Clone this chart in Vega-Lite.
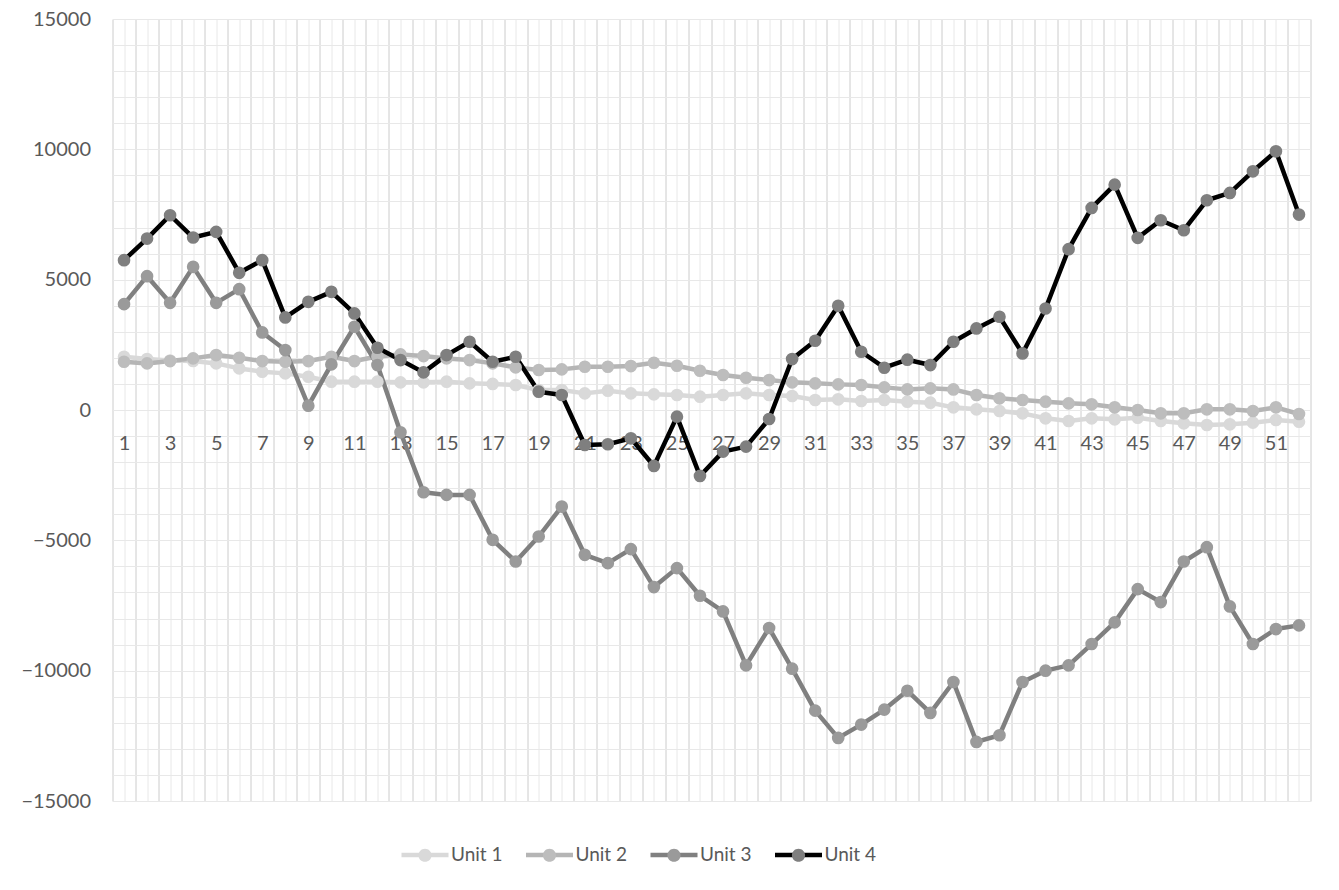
{
  "$schema": "https://vega.github.io/schema/vega-lite/v6.json",
  "width": 1198,
  "height": 782,
  "autosize": "none",
  "padding": {"left": 112.5, "top": 19, "right": 28.5, "bottom": 89},
  "background": "white",
  "config": {"view": {"stroke": null}, "font": "Lato"},
  "data": {"values": [
    {"w":1,"s":"Unit 1","v":2043},{"w":2,"s":"Unit 1","v":1954},{"w":3,"s":"Unit 1","v":1900},{"w":4,"s":"Unit 1","v":1880},{"w":5,"s":"Unit 1","v":1788},{"w":6,"s":"Unit 1","v":1596},{"w":7,"s":"Unit 1","v":1469},{"w":8,"s":"Unit 1","v":1405},{"w":9,"s":"Unit 1","v":1277},{"w":10,"s":"Unit 1","v":1086},
    {"w":11,"s":"Unit 1","v":1086},{"w":12,"s":"Unit 1","v":1086},{"w":13,"s":"Unit 1","v":1060},{"w":14,"s":"Unit 1","v":1060},{"w":15,"s":"Unit 1","v":1086},{"w":16,"s":"Unit 1","v":1022},{"w":17,"s":"Unit 1","v":1000},{"w":18,"s":"Unit 1","v":958},{"w":19,"s":"Unit 1","v":766},{"w":20,"s":"Unit 1","v":766},
    {"w":21,"s":"Unit 1","v":638},{"w":22,"s":"Unit 1","v":741},{"w":23,"s":"Unit 1","v":638},{"w":24,"s":"Unit 1","v":600},{"w":25,"s":"Unit 1","v":575},{"w":26,"s":"Unit 1","v":511},{"w":27,"s":"Unit 1","v":575},{"w":28,"s":"Unit 1","v":638},{"w":29,"s":"Unit 1","v":575},{"w":30,"s":"Unit 1","v":536},
    {"w":31,"s":"Unit 1","v":383},{"w":32,"s":"Unit 1","v":409},{"w":33,"s":"Unit 1","v":345},{"w":34,"s":"Unit 1","v":383},{"w":35,"s":"Unit 1","v":319},{"w":36,"s":"Unit 1","v":281},{"w":37,"s":"Unit 1","v":102},{"w":38,"s":"Unit 1","v":26},{"w":39,"s":"Unit 1","v":-38},{"w":40,"s":"Unit 1","v":-128},
    {"w":41,"s":"Unit 1","v":-319},{"w":42,"s":"Unit 1","v":-421},{"w":43,"s":"Unit 1","v":-319},{"w":44,"s":"Unit 1","v":-357},{"w":45,"s":"Unit 1","v":-294},{"w":46,"s":"Unit 1","v":-421},{"w":47,"s":"Unit 1","v":-511},{"w":48,"s":"Unit 1","v":-575},{"w":49,"s":"Unit 1","v":-549},{"w":50,"s":"Unit 1","v":-485},
    {"w":51,"s":"Unit 1","v":-383},{"w":52,"s":"Unit 1","v":-447},
    {"w":1,"s":"Unit 2","v":1852},{"w":2,"s":"Unit 2","v":1788},{"w":3,"s":"Unit 2","v":1877},{"w":4,"s":"Unit 2","v":1980},{"w":5,"s":"Unit 2","v":2107},{"w":6,"s":"Unit 2","v":2005},{"w":7,"s":"Unit 2","v":1877},{"w":8,"s":"Unit 2","v":1852},{"w":9,"s":"Unit 2","v":1877},{"w":10,"s":"Unit 2","v":2043},
    {"w":11,"s":"Unit 2","v":1877},{"w":12,"s":"Unit 2","v":2050},{"w":13,"s":"Unit 2","v":2133},{"w":14,"s":"Unit 2","v":2069},{"w":15,"s":"Unit 2","v":1980},{"w":16,"s":"Unit 2","v":1916},{"w":17,"s":"Unit 2","v":1788},{"w":18,"s":"Unit 2","v":1635},{"w":19,"s":"Unit 2","v":1533},{"w":20,"s":"Unit 2","v":1558},
    {"w":21,"s":"Unit 2","v":1660},{"w":22,"s":"Unit 2","v":1660},{"w":23,"s":"Unit 2","v":1686},{"w":24,"s":"Unit 2","v":1814},{"w":25,"s":"Unit 2","v":1699},{"w":26,"s":"Unit 2","v":1507},{"w":27,"s":"Unit 2","v":1341},{"w":28,"s":"Unit 2","v":1239},{"w":29,"s":"Unit 2","v":1149},{"w":30,"s":"Unit 2","v":1060},
    {"w":31,"s":"Unit 2","v":1022},{"w":32,"s":"Unit 2","v":983},{"w":33,"s":"Unit 2","v":958},{"w":34,"s":"Unit 2","v":868},{"w":35,"s":"Unit 2","v":791},{"w":36,"s":"Unit 2","v":830},{"w":37,"s":"Unit 2","v":789},{"w":38,"s":"Unit 2","v":575},{"w":39,"s":"Unit 2","v":447},{"w":40,"s":"Unit 2","v":383},
    {"w":41,"s":"Unit 2","v":319},{"w":42,"s":"Unit 2","v":255},{"w":43,"s":"Unit 2","v":217},{"w":44,"s":"Unit 2","v":102},{"w":45,"s":"Unit 2","v":0},{"w":46,"s":"Unit 2","v":-128},{"w":47,"s":"Unit 2","v":-128},{"w":48,"s":"Unit 2","v":26},{"w":49,"s":"Unit 2","v":26},{"w":50,"s":"Unit 2","v":-38},
    {"w":51,"s":"Unit 2","v":102},{"w":52,"s":"Unit 2","v":-153},
    {"w":1,"s":"Unit 3","v":4061},{"w":2,"s":"Unit 3","v":5134},{"w":3,"s":"Unit 3","v":4112},{"w":4,"s":"Unit 3","v":5492},{"w":5,"s":"Unit 3","v":4112},{"w":6,"s":"Unit 3","v":4636},{"w":7,"s":"Unit 3","v":2975},{"w":8,"s":"Unit 3","v":2299},{"w":9,"s":"Unit 3","v":166},{"w":10,"s":"Unit 3","v":1750},
    {"w":11,"s":"Unit 3","v":3193},{"w":12,"s":"Unit 3","v":1724},{"w":13,"s":"Unit 3","v":-856},{"w":14,"s":"Unit 3","v":-3155},{"w":15,"s":"Unit 3","v":-3257},{"w":16,"s":"Unit 3","v":-3257},{"w":17,"s":"Unit 3","v":-4981},{"w":18,"s":"Unit 3","v":-5811},{"w":19,"s":"Unit 3","v":-4853},{"w":20,"s":"Unit 3","v":-3704},
    {"w":21,"s":"Unit 3","v":-5556},{"w":22,"s":"Unit 3","v":-5875},{"w":23,"s":"Unit 3","v":-5338},{"w":24,"s":"Unit 3","v":-6794},{"w":25,"s":"Unit 3","v":-6066},{"w":26,"s":"Unit 3","v":-7126},{"w":27,"s":"Unit 3","v":-7727},{"w":28,"s":"Unit 3","v":-9796},{"w":29,"s":"Unit 3","v":-8365},{"w":30,"s":"Unit 3","v":-9923},
    {"w":31,"s":"Unit 3","v":-11533},{"w":32,"s":"Unit 3","v":-12580},{"w":33,"s":"Unit 3","v":-12069},{"w":34,"s":"Unit 3","v":-11494},{"w":35,"s":"Unit 3","v":-10770},{"w":36,"s":"Unit 3","v":-11622},{"w":37,"s":"Unit 3","v":-10434},{"w":38,"s":"Unit 3","v":-12733},{"w":39,"s":"Unit 3","v":-12478},{"w":40,"s":"Unit 3","v":-10434},
    {"w":41,"s":"Unit 3","v":-10000},{"w":42,"s":"Unit 3","v":-9796},{"w":43,"s":"Unit 3","v":-8978},{"w":44,"s":"Unit 3","v":-8148},{"w":45,"s":"Unit 3","v":-6871},{"w":46,"s":"Unit 3","v":-7369},{"w":47,"s":"Unit 3","v":-5811},{"w":48,"s":"Unit 3","v":-5262},{"w":49,"s":"Unit 3","v":-7535},{"w":50,"s":"Unit 3","v":-8978},
    {"w":51,"s":"Unit 3","v":-8404},{"w":52,"s":"Unit 3","v":-8263},
    {"w":1,"s":"Unit 4","v":5747},{"w":2,"s":"Unit 4","v":6577},{"w":3,"s":"Unit 4","v":7471},{"w":4,"s":"Unit 4","v":6616},{"w":5,"s":"Unit 4","v":6833},{"w":6,"s":"Unit 4","v":5262},{"w":7,"s":"Unit 4","v":5747},{"w":8,"s":"Unit 4","v":3551},{"w":9,"s":"Unit 4","v":4150},{"w":10,"s":"Unit 4","v":4533},
    {"w":11,"s":"Unit 4","v":3704},{"w":12,"s":"Unit 4","v":2388},{"w":13,"s":"Unit 4","v":1916},{"w":14,"s":"Unit 4","v":1443},{"w":15,"s":"Unit 4","v":2107},{"w":16,"s":"Unit 4","v":2618},{"w":17,"s":"Unit 4","v":1852},{"w":18,"s":"Unit 4","v":2043},{"w":19,"s":"Unit 4","v":703},{"w":20,"s":"Unit 4","v":575},
    {"w":21,"s":"Unit 4","v":-1341},{"w":22,"s":"Unit 4","v":-1315},{"w":23,"s":"Unit 4","v":-1086},{"w":24,"s":"Unit 4","v":-2146},{"w":25,"s":"Unit 4","v":-255},{"w":26,"s":"Unit 4","v":-2529},{"w":27,"s":"Unit 4","v":-1596},{"w":28,"s":"Unit 4","v":-1405},{"w":29,"s":"Unit 4","v":-345},{"w":30,"s":"Unit 4","v":1954},
    {"w":31,"s":"Unit 4","v":2656},{"w":32,"s":"Unit 4","v":3997},{"w":33,"s":"Unit 4","v":2235},{"w":34,"s":"Unit 4","v":1622},{"w":35,"s":"Unit 4","v":1930},{"w":36,"s":"Unit 4","v":1724},{"w":37,"s":"Unit 4","v":2618},{"w":38,"s":"Unit 4","v":3129},{"w":39,"s":"Unit 4","v":3576},{"w":40,"s":"Unit 4","v":2171},
    {"w":41,"s":"Unit 4","v":3895},{"w":42,"s":"Unit 4","v":6169},{"w":43,"s":"Unit 4","v":7752},{"w":44,"s":"Unit 4","v":8646},{"w":45,"s":"Unit 4","v":6603},{"w":46,"s":"Unit 4","v":7280},{"w":47,"s":"Unit 4","v":6897},{"w":48,"s":"Unit 4","v":8046},{"w":49,"s":"Unit 4","v":8327},{"w":50,"s":"Unit 4","v":9157},
    {"w":51,"s":"Unit 4","v":9923},{"w":52,"s":"Unit 4","v":7497}
  ]},
  "resolve": {"axis": {"x": "independent", "y": "independent"}},
  "layer": [
    {
      "mark": {"type": "line", "strokeWidth": 4.5, "strokeJoin": "round", "strokeCap": "round"},
      "encoding": {
        "x": {"field": "w", "type": "quantitative",
          "scale": {"domain": [0.5, 52.5], "nice": false, "zero": false},
          "axis": {"orient": "bottom", "values": [0.5,1.5,2.5,3.5,4.5,5.5,6.5,7.5,8.5,9.5,10.5,11.5,12.5,13.5,14.5,15.5,16.5,17.5,18.5,19.5,20.5,21.5,22.5,23.5,24.5,25.5,26.5,27.5,28.5,29.5,30.5,31.5,32.5,33.5,34.5,35.5,36.5,37.5,38.5,39.5,40.5,41.5,42.5,43.5,44.5,45.5,46.5,47.5,48.5,49.5,50.5,51.5,52.5],
            "grid": true, "gridColor": "#cccccc", "gridWidth": 1, "labels": false, "ticks": false, "domain": false, "title": null}},
        "y": {"field": "v", "type": "quantitative",
          "scale": {"domain": [-15000, 15000], "nice": false, "zero": false},
          "axis": {"orient": "left", "values": [-15000,-10000,-5000,0,5000,10000,15000],
            "grid": true, "gridColor": "#cccccc", "gridWidth": 1, "ticks": false, "tickSize": 0, "domain": false, "title": null,
            "labelFontSize": 20, "labelColor": "#595959", "labelPadding": 22, "format": "d"}},
        "stroke": {"field": "s", "type": "nominal",
          "scale": {"range": ["#d9d9d9", "#b5b5b5", "#808080", "#000000"]},
          "legend": {"orient": "none", "legendX": 286.5, "legendY": 810, "direction": "horizontal", "columns": 4,
            "title": null, "symbolType": "stroke", "symbolSize": 2209, "symbolStrokeWidth": 4.5,
            "labelFontSize": 19, "labelColor": "#595959", "labelOffset": 0, "columnPadding": 13.5, "gridAlign": "all", "padding": 0, "zindex": 0}}
      }
    },
    {
      "mark": {"type": "point", "filled": true, "opacity": 1, "size": 160, "shape": "circle"},
      "encoding": {
        "x": {"field": "w", "type": "quantitative",
          "axis": {"orient": "top", "values": [1,2,3,4,5,6,7,8,9,10,11,12,13,14,15,16,17,18,19,20,21,22,23,24,25,26,27,28,29,30,31,32,33,34,35,36,37,38,39,40,41,42,43,44,45,46,47,48,49,50,51,52],
            "grid": true, "gridColor": "#e8e8e8", "gridWidth": 1, "labels": false, "ticks": false, "domain": false, "title": null}},
        "y": {"field": "v", "type": "quantitative",
          "axis": {"orient": "right", "values": [-15000,-14000,-13000,-12000,-11000,-10000,-9000,-8000,-7000,-6000,-5000,-4000,-3000,-2000,-1000,0,1000,2000,3000,4000,5000,6000,7000,8000,9000,10000,11000,12000,13000,14000,15000],
            "grid": true, "gridColor": "#e8e8e8", "gridWidth": 1, "labels": false, "ticks": false, "domain": false, "title": null}},
        "fill": {"field": "s", "type": "nominal",
          "scale": {"domain": ["Unit 1", "Unit 2", "Unit 3", "Unit 4"], "range": ["#d9d9d9", "#bdbdbd", "#9a9a9a", "#7f7f7f"]},
          "legend": {"orient": "none", "legendX": 286.5, "legendY": 810, "direction": "horizontal", "columns": 4,
            "title": null, "symbolType": "M-1,0L1,0M-0.28,0a0.28,0.28 0 1,0 0.56,0a0.28,0.28 0 1,0 -0.56,0Z", "symbolSize": 2209, "symbolStrokeWidth": 4.5,
            "symbolStrokeColor": "transparent", "labelExpr": "''",
            "labelFontSize": 19, "labelOffset": 0, "columnPadding": 58.5, "gridAlign": "all", "padding": 0, "zindex": 1}}
      }
    },
    {
      "mark": {"type": "point", "opacity": 0},
      "encoding": {
        "x": {"field": "w", "type": "quantitative",
          "axis": {"orient": "bottom", "offset": -391, "values": [1,3,5,7,9,11,13,15,17,19,21,23,25,27,29,31,33,35,37,39,41,43,45,47,49,51],
            "grid": false, "ticks": false, "tickSize": 0, "domain": false, "title": null,
            "labelFontSize": 20, "labelColor": "#595959", "labelPadding": 23, "labelOverlap": false}},
        "y": {"field": "v", "type": "quantitative", "axis": null}
      }
    }
  ]
}
